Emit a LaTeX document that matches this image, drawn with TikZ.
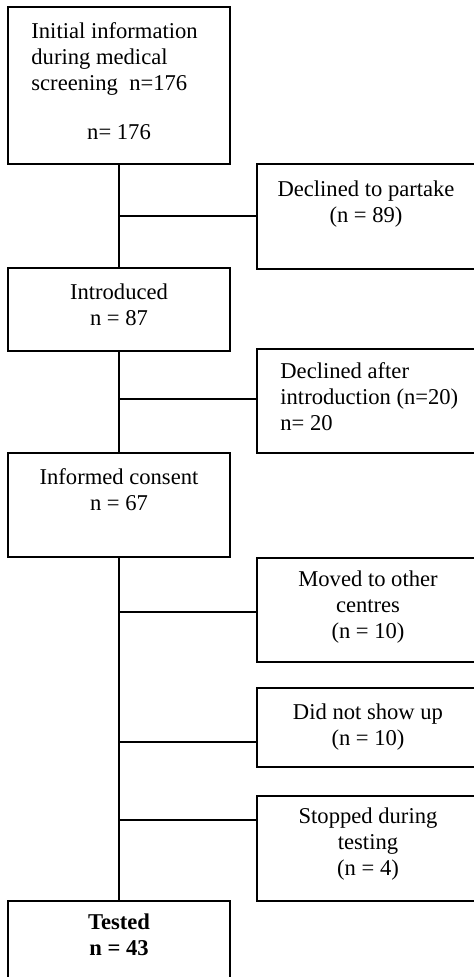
\documentclass[tikz,border=0pt]{standalone}
\usepackage{fontspec}
\setmainfont{Liberation Serif}
\begin{document}
\begin{tikzpicture}[x=0.5pt,y=-0.5pt,
  box/.style={draw,line width=0.8pt,inner sep=0pt,rectangle},
  txt/.style={font=\fontsize{11.3}{13}\selectfont,inner sep=0pt},
  link/.style={line width=0.8pt}]
\useasboundingbox (0,0) rectangle (474,977);
\clip (0,0) rectangle (474,977);
% main column boxes
\node[box,minimum width=111pt,minimum height=78.5pt] (b1) at (119,85.5) {};
\node[box,minimum width=111pt,minimum height=41.5pt] (intro) at (119,309.5) {};
\node[box,minimum width=111pt,minimum height=52pt] (cons) at (119,505) {};
\node[box,minimum width=111pt,minimum height=44.5pt] (test) at (119,945.5) {};
% side boxes
\node[box,minimum width=112pt,minimum height=52.5pt] (r1) at (369,216.5) {};
\node[box,minimum width=112pt,minimum height=52pt] (r2) at (369,401) {};
\node[box,minimum width=112pt,minimum height=52pt] (r3) at (369,610) {};
\node[box,minimum width=112pt,minimum height=39.5pt] (r4) at (369,727.5) {};
\node[box,minimum width=112pt,minimum height=52.5pt] (r5) at (369,848.5) {};
% texts
\node[txt,anchor=west,align=left] (t1) at (31,59) {Initial information\\during medical\\screening~~n=176};
\node[txt,anchor=base] (t1b) at (119,140) {n= 176};
\node[txt,align=center] (tr1) at (366,204) {Declined to partake\\(n = 89)};
\node[txt,align=center] (tintro) at (119,305) {Introduced\\n = 87};
\node[txt,anchor=west,align=left] (tr2) at (280,397) {Declined after\\introduction (n=20)\\n= 20};
\node[txt,align=center] (tcons) at (119,490) {Informed consent\\n = 67};
\node[txt,align=center] (tr3) at (368,607) {Moved to other\\centres\\(n = 10)};
\node[txt,align=center] (tr4) at (368,727) {Did not show up\\(n = 10)};
\node[txt,align=center] (tr5) at (368,844) {Stopped during\\testing\\(n = 4)};
\node[txt,align=center,font=\fontsize{11.3}{13}\selectfont\bfseries] (ttest) at (119,935) {Tested\\n = 43};
% connectors
\draw[link] (b1.south) -- (intro.north);
\draw[link] (intro.south) -- (cons.north);
\draw[link] (cons.south) -- (test.north);
\coordinate (j1) at (119,216);
\coordinate (j2) at (119,399);
\coordinate (j3) at (119,612);
\coordinate (j4) at (119,742);
\coordinate (j5) at (119,820);
\draw[link] (j1) -- (j1 -| r1.west);
\draw[link] (j2) -- (j2 -| r2.west);
\draw[link] (j3) -- (j3 -| r3.west);
\draw[link] (j4) -- (j4 -| r4.west);
\draw[link] (j5) -- (j5 -| r5.west);
\end{tikzpicture}
\end{document}
